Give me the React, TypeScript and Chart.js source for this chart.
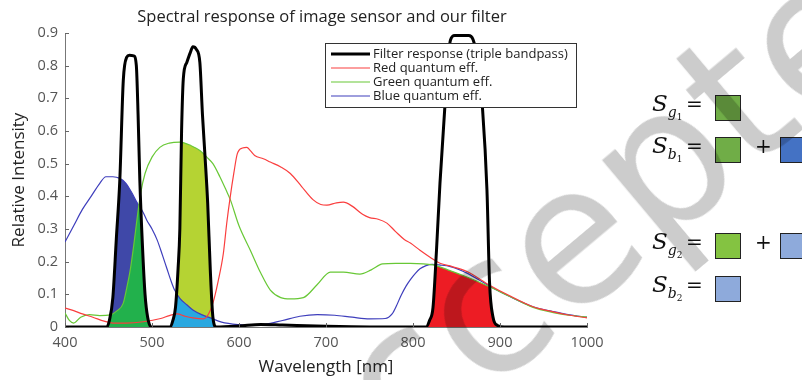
import React, { useEffect, useRef } from 'react';
import { Chart, registerables } from 'chart.js';

Chart.register(...registerables);

// ---------- data ----------
const filterWl = [400, 448, 451, 455, 459, 463, 467, 471, 474, 479, 482, 484, 486, 489, 492, 495, 499, 521, 524, 527, 530, 532, 534, 536, 540, 544, 547, 551, 555, 558, 561, 564, 567, 570, 574, 600, 625, 650, 700, 750, 815, 819, 823, 827, 831, 837, 843, 848, 864, 869, 874, 880, 885, 888, 892, 897, 905, 1000];
const filterResp = [0, 0, 0.02, 0.09, 0.27, 0.45, 0.755, 0.826, 0.832, 0.83, 0.8, 0.65, 0.45, 0.25, 0.1, 0.03, 0, 0, 0.02, 0.06, 0.18, 0.3, 0.6, 0.76, 0.81, 0.84, 0.858, 0.85, 0.81, 0.65, 0.52, 0.38, 0.175, 0.03, 0, 0.003, 0.008, 0.006, 0.002, 0, 0, 0.02, 0.06, 0.235, 0.44, 0.69, 0.878, 0.892, 0.892, 0.88, 0.82, 0.665, 0.42, 0.135, 0.03, 0.005, 0, 0];

const redWl = [400, 410, 420, 432, 445, 455, 470, 490, 510, 520, 529, 538, 547, 559, 565, 570, 576, 582, 586, 590, 594, 598, 604, 609, 613, 618, 628, 636, 648, 659, 672, 685, 694, 701, 712, 720, 730, 742, 750, 760, 770, 780, 790, 797, 808, 820, 831, 845, 862, 888, 910, 938, 960, 980, 1000];
const redQE = [0.058, 0.05, 0.04, 0.03, 0.018, 0.012, 0.012, 0.016, 0.026, 0.035, 0.04, 0.033, 0.028, 0.025, 0.04, 0.073, 0.14, 0.225, 0.32, 0.4, 0.47, 0.53, 0.548, 0.55, 0.54, 0.525, 0.515, 0.505, 0.49, 0.47, 0.43, 0.39, 0.375, 0.373, 0.38, 0.382, 0.37, 0.345, 0.335, 0.33, 0.318, 0.292, 0.268, 0.257, 0.235, 0.213, 0.195, 0.185, 0.17, 0.128, 0.097, 0.062, 0.047, 0.036, 0.028];

const greenWl = [400, 405, 410, 418, 428, 440, 452, 460, 467, 471, 475, 479, 483, 487, 492, 500, 509, 520, 532, 545, 555, 563, 570, 578, 585, 590, 600, 613, 625, 636, 648, 659, 674, 690, 705, 720, 739, 752, 765, 780, 797, 823, 840, 862, 888, 910, 938, 960, 980, 1000];
const greenQE = [0.043, 0.02, 0.012, 0.03, 0.038, 0.035, 0.037, 0.05, 0.073, 0.12, 0.175, 0.25, 0.335, 0.41, 0.47, 0.52, 0.55, 0.563, 0.566, 0.555, 0.54, 0.52, 0.5, 0.46, 0.42, 0.39, 0.31, 0.235, 0.165, 0.113, 0.09, 0.086, 0.09, 0.13, 0.168, 0.168, 0.162, 0.175, 0.193, 0.195, 0.195, 0.19, 0.175, 0.153, 0.123, 0.095, 0.06, 0.045, 0.036, 0.03];

const blueWl = [400, 410, 420, 430, 440, 447, 455, 463, 470, 477, 483, 490, 494, 500, 506, 512, 517, 522, 526, 532, 540, 547, 557, 567, 580, 600, 615, 630, 650, 670, 690, 710, 730, 750, 768, 776, 781, 786, 792, 797, 803, 808, 815, 822, 830, 843, 862, 888, 910, 938, 960, 980, 1000];
const blueQE = [0.26, 0.31, 0.36, 0.4, 0.44, 0.46, 0.46, 0.455, 0.44, 0.41, 0.38, 0.35, 0.327, 0.3, 0.266, 0.22, 0.18, 0.14, 0.113, 0.088, 0.068, 0.052, 0.038, 0.028, 0.015, 0.007, 0.005, 0.008, 0.02, 0.033, 0.038, 0.036, 0.03, 0.025, 0.026, 0.04, 0.065, 0.095, 0.125, 0.145, 0.165, 0.178, 0.188, 0.192, 0.19, 0.185, 0.165, 0.125, 0.095, 0.062, 0.048, 0.037, 0.03];

const seriesLabels = ['Filter response (triple bandpass)', 'Red quantum eff.', 'Green quantum eff.', 'Blue quantum eff.'];
const xTicks = [400, 500, 600, 700, 800, 900, 1000];
const yTicks = [0, 0.1, 0.2, 0.3, 0.4, 0.5, 0.6, 0.7, 0.8, 0.9];
const titleText = 'Spectral response of image sensor and our filter';
const xTitle = 'Wavelength [nm]';
const yTitle = 'Relative Intensity';

// pass bands of the filter (nm) shaded under the quantum-efficiency curves
const band1 = [445, 503];
const band2 = [518, 578];
const band3 = [810, 906];

const watermarkText = 'Accepted';

// ---------- styles ----------
const FONT = '"Open Sans", "DejaVu Sans", sans-serif';
const C_FILTER = '#000000';
const C_RED = 'rgb(250,62,62)';
const C_GREEN = 'rgb(104,200,54)';
const C_BLUE = 'rgb(62,62,188)';

const pts = (xs: number[], ys: number[]) => xs.map((x, i) => ({ x, y: ys[i] }));

const fillPlugin = {
  id: 'bandFills',
  beforeDatasetsDraw(chart: any) {
    const { ctx, chartArea, scales } = chart;
    const y0 = scales.y.getPixelForValue(0);
    const trace = (idx: number) => {
      const meta = chart.getDatasetMeta(idx);
      const el = meta.dataset;
      el.updateControlPoints(chartArea, 'x');
      const p = meta.data;
      ctx.beginPath();
      el.path(ctx);
      ctx.lineTo(p[p.length - 1].x, y0);
      ctx.lineTo(p[0].x, y0);
      ctx.closePath();
    };
    const layers: [number[], [number, string][]][] = [
      [band1, [[3, 'rgb(63,72,168)'], [2, 'rgb(34,177,76)']]],
      [band2, [[2, 'rgb(181,211,51)'], [3, 'rgb(41,168,224)']]],
      [band3, [[2, 'rgb(237,28,36)']]],
    ];
    for (const [band, fills] of layers) {
      ctx.save();
      const xa = scales.x.getPixelForValue(band[0]);
      const xb = scales.x.getPixelForValue(band[1]);
      ctx.beginPath();
      ctx.rect(xa, chartArea.top - 5, xb - xa, y0 - chartArea.top + 5);
      ctx.clip();
      trace(0);
      ctx.clip();
      for (const [idx, color] of fills) {
        trace(idx);
        ctx.fillStyle = color;
        ctx.fill();
      }
      ctx.restore();
    }
  },
};

const decorPlugin = {
  id: 'decor',
  afterDatasetsDraw(chart: any) {
    const { ctx, chartArea, scales } = chart;
    const x0 = scales.x.getPixelForValue(400);
    const y0 = scales.y.getPixelForValue(0);
    ctx.save();
    // inward tick marks
    ctx.strokeStyle = '#666';
    ctx.lineWidth = 1;
    ctx.beginPath();
    for (const v of xTicks) {
      const px = Math.round(scales.x.getPixelForValue(v)) + 0.5;
      ctx.moveTo(px, y0);
      ctx.lineTo(px, y0 - 4);
    }
    for (const v of yTicks) {
      const py = Math.round(scales.y.getPixelForValue(v)) + 0.5;
      ctx.moveTo(x0, py);
      ctx.lineTo(x0 + 4, py);
    }
    ctx.stroke();

    // legend box
    const lx = 325, ly = 43, lw = 251, lh = 64;
    ctx.fillStyle = '#fff';
    ctx.fillRect(lx, ly, lw, lh);
    ctx.strokeStyle = '#333';
    ctx.lineWidth = 1;
    ctx.strokeRect(lx + 0.5, ly + 0.5, lw, lh);
    ctx.font = `13px ${FONT}`;
    ctx.textBaseline = 'middle';
    ctx.textAlign = 'left';
    chart.data.datasets.forEach((ds: any, i: number) => {
      const y = ly + 11 + i * 14;
      ctx.strokeStyle = ds.borderColor;
      ctx.lineWidth = ds.borderWidth;
      ctx.beginPath();
      ctx.moveTo(lx + 6, y);
      ctx.lineTo(lx + 45, y);
      ctx.stroke();
      ctx.fillStyle = '#222';
      ctx.fillText(ds.label, lx + 48, y + 0.5);
    });

    // title
    ctx.font = `16.5px ${FONT}`;
    ctx.textAlign = 'center';
    ctx.fillStyle = '#222';
    ctx.fillText(titleText, (chartArea.left + chartArea.right) / 2 - 4, 17);
    ctx.restore();
  },
};

function Equations() {
  const rows = [
    { v: 'g', n: '1', top: 95, boxes: ['#70ad47'] },
    { v: 'b', n: '1', top: 137, boxes: ['#70ad47', '#4472c4'] },
    { v: 'g', n: '2', top: 233, boxes: ['#84c341', '#8eaadb'] },
    { v: 'b', n: '2', top: 276, boxes: ['#8eaadb'] },
  ];
  const serif = '"DejaVu Serif", "Liberation Serif", serif';
  return (
    <>
      {rows.map((r, i) => (
        <div key={i} style={{ position: 'absolute', left: 0, top: r.top, width: 802, height: 26 }}>
          <span style={{ position: 'absolute', left: 652, top: -5, font: `italic 23px ${serif}`, color: '#111', whiteSpace: 'nowrap' }}>
            S
            <span style={{ fontSize: 14, position: 'relative', top: 6 }}>{r.v}</span>
            <span style={{ fontSize: 9, fontStyle: 'normal', position: 'relative', top: 9 }}>{r.n}</span>
          </span>
          <span style={{ position: 'absolute', left: 686, top: -3, font: `20px ${serif}`, color: '#111' }}>=</span>
          <div style={{ position: 'absolute', left: 715, top: 0, width: 24, height: 24, background: r.boxes[0], border: '1.5px solid #222' }} />
          {r.boxes.length > 1 && (
            <>
              <span style={{ position: 'absolute', left: 755, top: -3, font: `20px ${serif}`, color: '#111' }}>+</span>
              <div style={{ position: 'absolute', left: 780, top: 0, width: 24, height: 24, background: r.boxes[1], border: '1.5px solid #222' }} />
            </>
          )}
        </div>
      ))}
    </>
  );
}

export default function App() {
  const ref = useRef<HTMLCanvasElement>(null);
  useEffect(() => {
    const canvas = ref.current!;
    const common = { pointRadius: 0, fill: false, cubicInterpolationMode: 'monotone' as const };
    const chart = new Chart(canvas, {
      type: 'line',
      data: {
        datasets: [
          { label: seriesLabels[0], data: pts(filterWl, filterResp), borderColor: C_FILTER, borderWidth: 3, ...common },
          { label: seriesLabels[1], data: pts(redWl, redQE), borderColor: C_RED, borderWidth: 1.2, ...common },
          { label: seriesLabels[2], data: pts(greenWl, greenQE), borderColor: C_GREEN, borderWidth: 1.2, ...common },
          { label: seriesLabels[3], data: pts(blueWl, blueQE), borderColor: C_BLUE, borderWidth: 1.2, ...common },
        ],
      },
      options: {
        animation: false,
        responsive: false,
        maintainAspectRatio: false,
        devicePixelRatio: 1,
        layout: { padding: { left: 6, top: 33, right: 215, bottom: 0 } },
        plugins: { legend: { display: false }, tooltip: { enabled: false }, title: { display: false } },
        scales: {
          x: {
            type: 'linear',
            min: 400,
            max: 1000,
            afterBuildTicks: (s: any) => { s.ticks = xTicks.map((v) => ({ value: v })); },
            afterFit: (s: any) => { s.height = 53; },
            ticks: { color: '#555', font: { family: FONT, size: 14.5 }, padding: 7, maxRotation: 0, callback: (v: any) => String(v) },
            grid: { display: false, drawTicks: false },
            border: { display: true, color: '#777', width: 1 },
            title: { display: true, text: xTitle, color: '#222', font: { family: FONT, size: 17 }, padding: { top: 0, bottom: 3 } },
          },
          y: {
            type: 'linear',
            min: 0,
            max: 0.9,
            afterBuildTicks: (s: any) => { s.ticks = yTicks.map((v) => ({ value: v })); },
            afterFit: (s: any) => { s.width = 59; },
            ticks: { color: '#555', font: { family: FONT, size: 14.5 }, padding: 7, callback: (v: any) => (v === 0 ? '0' : Number(v).toFixed(1)) },
            grid: { display: false, drawTicks: false },
            border: { display: true, color: '#777', width: 1 },
            title: { display: true, text: yTitle, color: '#222', font: { family: FONT, size: 17 }, padding: { top: 3, bottom: 0 } },
          },
        },
      },
      plugins: [fillPlugin, decorPlugin],
    });
    return () => chart.destroy();
  }, []);

  return (
    <div style={{ position: 'absolute', left: 0, top: 0, width: 802, height: 380, overflow: 'hidden', background: '#fff' }}>
      <canvas ref={ref} width={802} height={380} style={{ position: 'absolute', left: 0, top: 0, width: 802, height: 380 }} />
      <Equations />
      <div
        style={{
          position: 'absolute',
          left: 202,
          top: 422,
          transformOrigin: '0 0',
          transform: 'rotate(-40deg)',
          font: `192px "DejaVu Sans", sans-serif`,
          lineHeight: 1,
          color: 'rgba(0,0,0,0.2)',
          whiteSpace: 'nowrap',
          pointerEvents: 'none',
        }}
      >
        {watermarkText}
      </div>
    </div>
  );
}
